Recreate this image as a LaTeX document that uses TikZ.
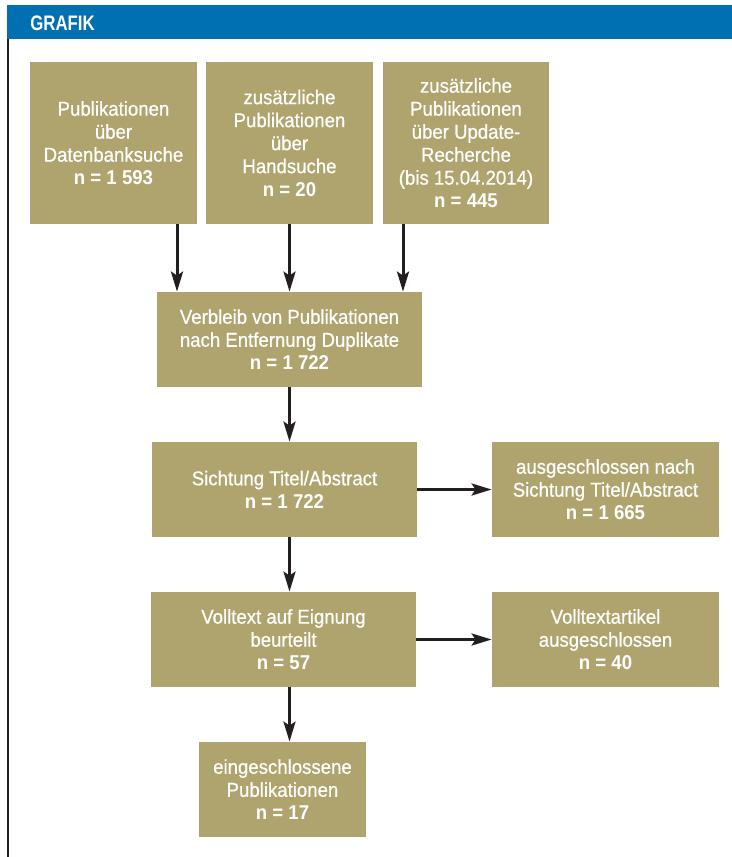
\documentclass[tikz,border=0pt]{standalone}
\usepackage{fontspec}
\setmainfont{Liberation Sans}[FakeStretch=0.93, UprightFeatures={FakeBold=0.6}]
\newfontfamily\headfont{Liberation Sans}[FakeStretch=0.8]
\usetikzlibrary{arrows.meta}
\definecolor{khaki}{RGB}{176,164,110}
\definecolor{headblue}{RGB}{0,112,178}
\definecolor{arrowblack}{RGB}{35,31,32}
\tikzset{
  box/.style={fill=khaki, text=white, align=center, inner sep=0pt,
    font=\fontsize{10}{11.5}\selectfont},
  arr/.style={arrowblack, line width=1.5pt, -{Stealth[length=10pt,width=6pt,inset=2pt]}}
}

\begin{document}
\begin{tikzpicture}[x=0.5pt, y=-0.5pt]
\useasboundingbox (0,0) rectangle (732,857);

\fill[headblue] (7,5) rectangle (732,39);
\draw[arrowblack, line width=1pt] (8,39) -- (8,857);
\node[anchor=base west, text=white, inner sep=0pt,
  font=\headfont\bfseries\fontsize{10.5}{12}\selectfont] (title) at (30,30) {GRAFIK};

\node[box, minimum width=83.5pt, minimum height=81pt] (datenbank) at (113.5,143)
  {Publikationen\\über\\Datenbanksuche\\\textbf{n = 1 593}};
\node[box, minimum width=83.5pt, minimum height=81pt] (handsuche) at (289.5,143)
  {zusätzliche\\Publikationen\\über\\Handsuche\\\textbf{n = 20}};
\node[box, minimum width=83pt, minimum height=81pt] (update) at (466,143)
  {zusätzliche\\Publikationen\\über Update-\\Recherche\\(bis 15.04.2014)\\\textbf{n = 445}};

\node[box, minimum width=132.5pt, minimum height=47.5pt] (verbleib) at (289.5,339.5)
  {Verbleib von Publikationen\\nach Entfernung Duplikate\\\textbf{n = 1 722}};
\node[box, minimum width=132.5pt, minimum height=47.5pt] (sichtung) at (284.5,489.5)
  {Sichtung Titel/Abstract\\\textbf{n = 1 722}};
\node[box, minimum width=113.5pt, minimum height=47.5pt] (ausgeschlossen) at (605.5,489.5)
  {ausgeschlossen nach\\Sichtung Titel/Abstract\\\textbf{n = 1 665}};
\node[box, minimum width=132.5pt, minimum height=47.5pt] (volltext) at (283.5,639.5)
  {Volltext auf Eignung\\beurteilt\\\textbf{n = 57}};
\node[box, minimum width=113.5pt, minimum height=47.5pt] (volltextaus) at (605.5,639.5)
  {Volltextartikel\\ausgeschlossen\\\textbf{n = 40}};
\node[box, minimum width=83.5pt, minimum height=47.5pt] (eingeschlossen) at (282.5,789.5)
  {eingeschlossene\\Publikationen\\\textbf{n = 17}};

\coordinate (in1) at ([xshift=-56.25pt]verbleib.north);
\coordinate (in3) at ([xshift=56.75pt]verbleib.north);

\draw[arr] (datenbank.south -| in1) -- (in1);
\draw[arr] (handsuche.south -| verbleib.north) -- (verbleib.north);
\draw[arr] (update.south -| in3) -- (in3);
\draw[arr] (verbleib.south) -- (sichtung.north -| verbleib.south);
\draw[arr] (sichtung.south -| verbleib.south) -- (volltext.north -| verbleib.south);
\draw[arr] (volltext.south -| verbleib.south) -- (eingeschlossen.north -| verbleib.south);
\draw[arr] (sichtung.east) -- (ausgeschlossen.west |- sichtung.east);
\draw[arr] (volltext.east) -- (volltextaus.west |- volltext.east);
\end{tikzpicture}
\end{document}
